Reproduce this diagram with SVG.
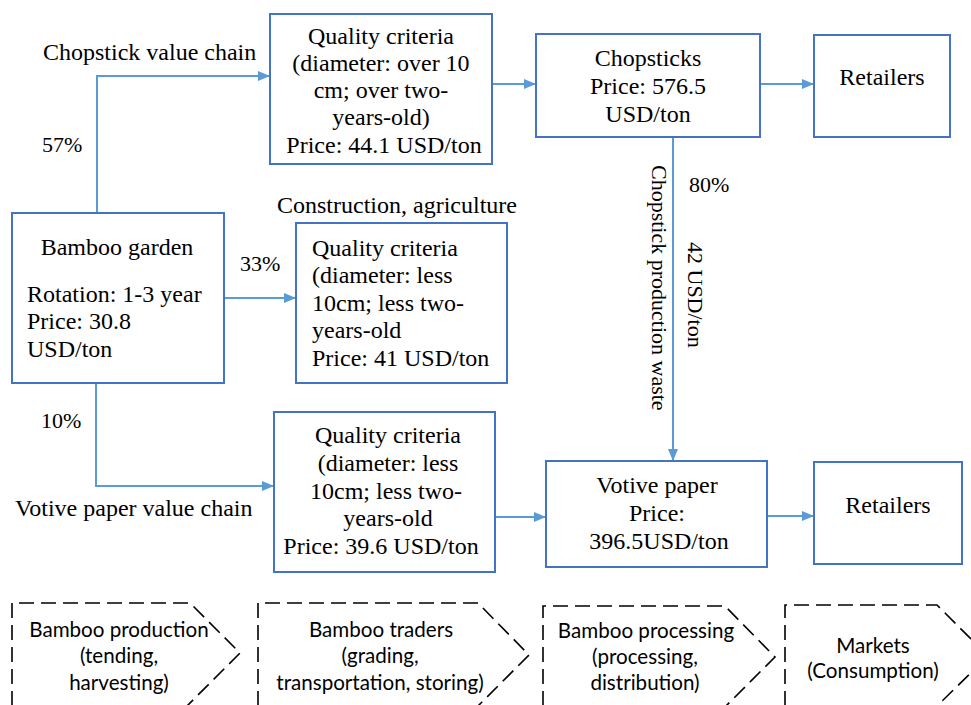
<svg xmlns="http://www.w3.org/2000/svg" width="971" height="705" viewBox="0 0 971 705">
<style>
.box{fill:#fff;stroke:#4472C4;stroke-width:2}
.con{fill:none;stroke:#5B9BD5;stroke-width:2}
.t{font-family:"Liberation Serif","Times New Roman",serif;font-size:24px;fill:#000}
.c{text-anchor:middle}
.p{font-size:22px}
.chev{fill:none;stroke:#000;stroke-width:1.6;stroke-dasharray:15 7}
.s{font-family:Lato,"Liberation Sans",sans-serif;font-size:20.6px;fill:#000;text-anchor:middle}
</style>
<defs>
<marker id="ah" markerUnits="userSpaceOnUse" markerWidth="12" markerHeight="10" refX="12" refY="5" orient="auto">
<path d="M0,0 L12,5 L0,10 z" fill="#5B9BD5"/>
</marker>
</defs>
<rect width="971" height="705" fill="#fff"/>
<g id="connectors">
<path class="con" d="M97,213 V76 H270" marker-end="url(#ah)"/>
<path class="con" d="M492,84 H536" marker-end="url(#ah)"/>
<path class="con" d="M760,84 H814" marker-end="url(#ah)"/>
<path class="con" d="M224,298 H296" marker-end="url(#ah)"/>
<path class="con" d="M96,383 V486 H274" marker-end="url(#ah)"/>
<path class="con" d="M495,517 H546" marker-end="url(#ah)"/>
<path class="con" d="M767,516 H814" marker-end="url(#ah)"/>
<path class="con" d="M673,137 V461" marker-end="url(#ah)"/>
</g>
<g id="labels">
<text class="t" x="43" y="60">Chopstick value chain</text>
<text class="t p" x="42" y="152">57%</text>
<text class="t" x="277" y="213">Construction, agriculture</text>
<text class="t p" x="240" y="271">33%</text>
<text class="t p" x="41" y="428">10%</text>
<text class="t" x="15" y="516">Votive paper value chain</text>
<text class="t p" x="689" y="192">80%</text>
<text class="t p" transform="translate(652,165) rotate(90)">Chopstick production waste</text>
<text class="t p" transform="translate(688,242) rotate(90)">42 USD/ton</text>
</g>
<g id="qc1">
<rect class="box" x="270" y="14" width="222" height="150"/>
<text class="t c" x="381" y="44">Quality criteria</text>
<text class="t c" x="381" y="71">(diameter: over 10</text>
<text class="t c" x="381" y="98">cm; over two-</text>
<text class="t c" x="381" y="125">years-old)</text>
<text class="t c" x="384" y="153">Price: 44.1 USD/ton</text>
</g>
<g id="chopsticks">
<rect class="box" x="536" y="34" width="224" height="103"/>
<text class="t c" x="648" y="66">Chopsticks</text>
<text class="t c" x="648" y="94">Price: 576.5</text>
<text class="t c" x="648" y="122">USD/ton</text>
</g>
<g id="retailers1">
<rect class="box" x="814" y="35" width="136" height="102"/>
<text class="t c" x="882" y="85">Retailers</text>
</g>
<g id="garden">
<rect class="box" x="12" y="213" width="212" height="170"/>
<text class="t c" x="117" y="255">Bamboo garden</text>
<text class="t" x="27" y="302">Rotation: 1-3 year</text>
<text class="t" x="27" y="329">Price: 30.8</text>
<text class="t" x="27" y="357">USD/ton</text>
</g>
<g id="qc2">
<rect class="box" x="296" y="223" width="211" height="160"/>
<text class="t" x="312" y="256">Quality criteria</text>
<text class="t" x="312" y="283">(diameter: less</text>
<text class="t" x="312" y="311">10cm; less two-</text>
<text class="t" x="312" y="338">years-old</text>
<text class="t" x="312" y="366">Price: 41 USD/ton</text>
</g>
<g id="qc3">
<rect class="box" x="274" y="412" width="221" height="160"/>
<text class="t c" x="388" y="443">Quality criteria</text>
<text class="t c" x="388" y="471">(diameter: less</text>
<text class="t c" x="386" y="499">10cm; less two-</text>
<text class="t c" x="388" y="526">years-old</text>
<text class="t c" x="381" y="554">Price: 39.6 USD/ton</text>
</g>
<g id="votive">
<rect class="box" x="546" y="461" width="221" height="106"/>
<text class="t c" x="657" y="493">Votive paper</text>
<text class="t c" x="657" y="521">Price:</text>
<text class="t c" x="659" y="549">396.5USD/ton</text>
</g>
<g id="retailers2">
<rect class="box" x="814" y="462" width="148" height="102"/>
<text class="t c" x="888" y="513">Retailers</text>
</g>
<g id="stage1">
<path class="chev" d="M12,706 V603 H190 L240,653 L187,706"/>
<text class="s" x="119" y="637">Bamboo production</text>
<text class="s" x="119" y="663">(tending,</text>
<text class="s" x="119" y="690">harvesting)</text>
</g>
<g id="stage2">
<path class="chev" d="M258,706 V603 H478 L529,655 L478,706"/>
<text class="s" x="381" y="637">Bamboo traders</text>
<text class="s" x="380" y="663">(grading,</text>
<text class="s" x="380" y="690">transportation, storing)</text>
</g>
<g id="stage3">
<path class="chev" d="M543,706 V606 H725 L775,657 L726,706"/>
<text class="s" x="646" y="638">Bamboo processing</text>
<text class="s" x="645" y="664">(processing,</text>
<text class="s" x="645" y="690">distribution)</text>
</g>
<g id="stage4">
<path class="chev" d="M785,706 V605 H937 L988,656 L937,706"/>
<text class="s" x="873" y="653">Markets</text>
<text class="s" x="873" y="678">(Consumption)</text>
</g>
</svg>
